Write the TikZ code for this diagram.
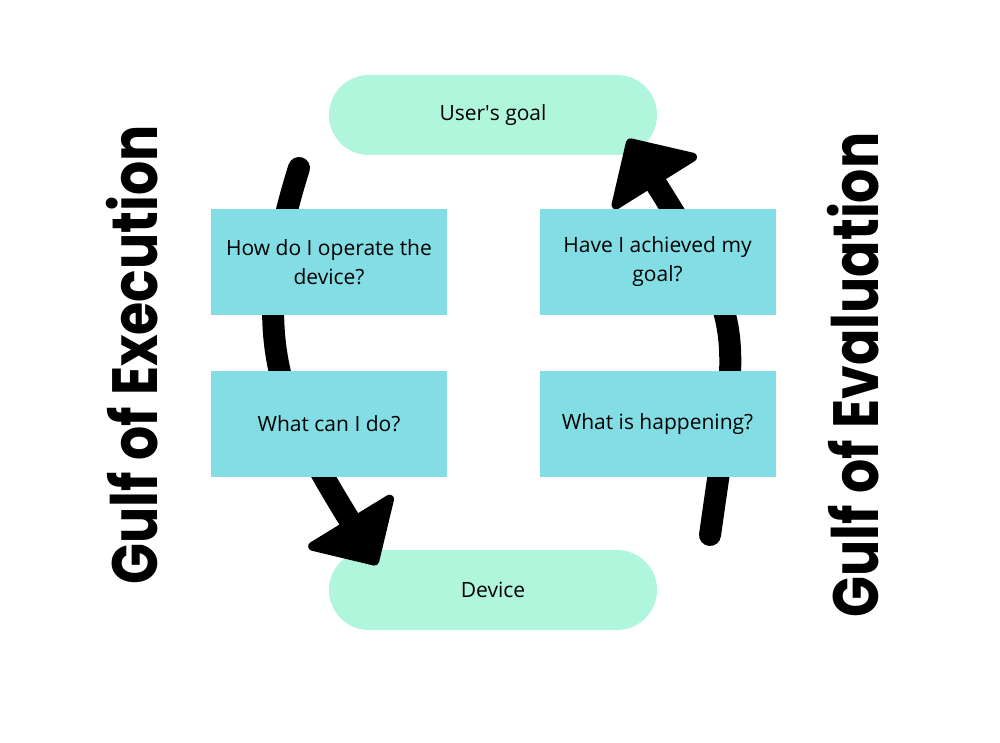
\documentclass[tikz,border=0pt]{standalone}
\usepackage{fontspec}
\setmainfont{Open Sans}
\newfontfamily\gulffont{Poppins}
\usetikzlibrary{arrows.meta,positioning}
\definecolor{goalmint}{HTML}{AFF6DC}
\definecolor{askcyan}{HTML}{82DEE4}

\begin{document}
\begin{tikzpicture}
[x=1pt, y=-1pt,
pill/.style={rectangle, rounded corners=40pt, fill=goalmint, minimum width=328pt, minimum height=80pt, inner sep=0pt, font=\fontsize{21}{29}\selectfont},
question/.style={rectangle, fill=askcyan, minimum width=236pt, minimum height=106pt, inner sep=0pt, align=center, font=\fontsize{21}{29}\selectfont},
gulf/.style={rotate=90, inner sep=0pt, font=\gulffont\bfseries\fontsize{64}{64}\selectfont},
gulfarrow/.style={draw=black, line width=22pt, line cap=round, -{Triangle[length=56pt, width=110pt, line width=9pt, round]}}]

\useasboundingbox[fill=white] (0,0) rectangle (1000,743);

\node[pill] (goal) at (493,115) {User\textquotesingle s goal};
\node[pill] (device) at (493,590) {Device};

% the two gulfs
\coordinate (execStart) at (299,168);
\coordinate (execEnd) at (377,565);
\coordinate (evalStart) at (710,535);
\coordinate (evalEnd) at (628,139);

\draw[gulfarrow] (execStart) .. controls (245,339) and (282,410) .. (execEnd);
\draw[gulfarrow] (evalStart) .. controls (741,317) and (746,328) .. (evalEnd);

\node[question] (operate) at (329,262) {How do I operate the\\device?};
\node[question] (cando) at (329,424) {What can I do?};
\node[question] (achieved) at (657.5,262) {Have I achieved my\\goal?};
\node[question] (happening) at (657.5,424) {What is happening?};

\node[gulf] (execution) at (132,355) {\scalebox{0.84}[1]{Gulf of Execution}};
\node[gulf] (evaluation) at (853,375) {\scalebox{0.84}[1]{Gulf of Evaluation}};
\end{tikzpicture}
\end{document}
